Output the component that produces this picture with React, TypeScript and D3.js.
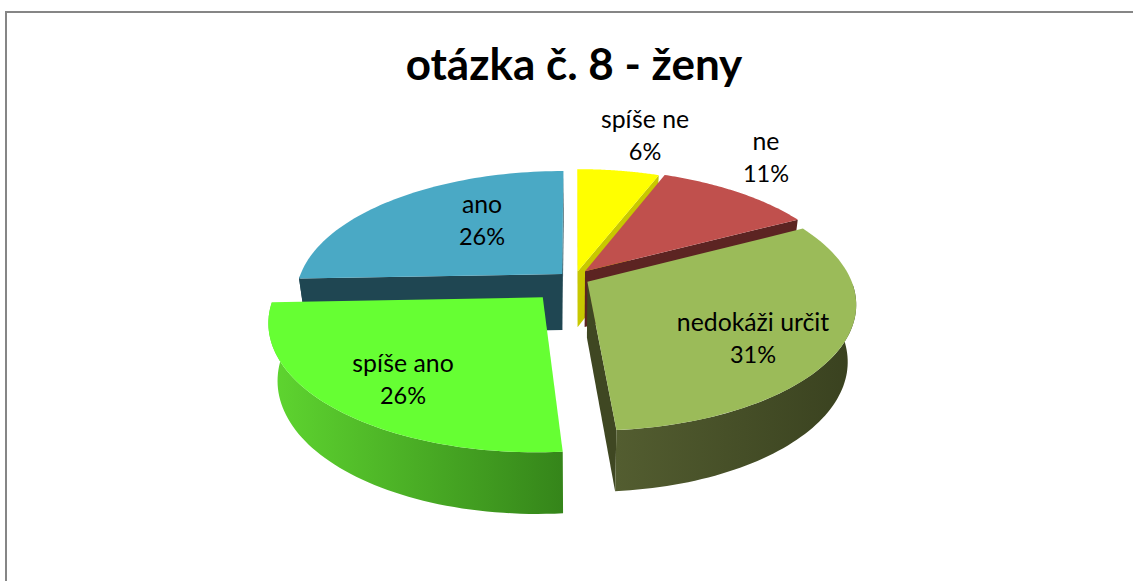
import React from "react";
import * as d3 from "d3";

const categories = ["spíše ne", "ne", "nedokáži určit", "spíše ano", "ano"];
const shares = [5.9, 11.4, 31.4, 25.7, 25.6];
const percentLabels = ["6%", "11%", "31%", "26%", "26%"];
const topColors = ["#ffff00", "#c0504d", "#9bbb59", "#66ff33", "#4aa9c5"];
const wallColors = ["#c8c800", "#5c2422", "#3f4722", "#35851a", "#1f4652"];
const arcLeftColors = ["#c8c800", "#5c2422", "#535d30", "#5fd630", "#1f4652"];
const arcRightColors = ["#c8c800", "#5c2422", "#39411f", "#35851a", "#1f4652"];
const explode = [0.055, 0.075, 0.062, 0.175, 0.047];
const nudgeX = [3, 0, 1, 2, -1];
const nudgeY = [0, 0, 0, 3, 0];
const labelCentres: [number, number][] = [[645, 135], [766, 157], [753, 338], [403, 379], [482, 220]];

const W = 1133, H = 581;
const CX = 572, CY = 278, RX = 263, AY = 122, PERSP = 0.172, DEPTH = 56, SHRINK = 0.03;

type Pt = [number, number];
const project = (i: number, a: number, r: number, e: number, mid: number, low: boolean): Pt => {
  const wx = r * Math.sin(a) + e * Math.sin(mid);
  const wz = r * Math.cos(a) + e * Math.cos(mid);
  const s = 1 / (1 + PERSP * wz);
  return [
    CX + nudgeX[i] + RX * wx * s * (low ? 1 - SHRINK : 1),
    CY + nudgeY[i] - AY * wz * s + (low ? DEPTH - 5 * wz : 0),
  ];
};

const line = d3.line<Pt>().x((d) => d[0]).y((d) => d[1]);
const close = (pts: Pt[]) => line(pts) + "Z";

const arcs = d3.pie<number>().sort(null).startAngle(0).endAngle(2 * Math.PI)(shares);
const drawOrder = [0, 1, 2, 4, 3];
const rad = (deg: number) => (deg * Math.PI) / 180;

const App = () => {
  const slices = drawOrder.map((i) => {
    const { startAngle: a0, endAngle: a1 } = arcs[i];
    const mid = (a0 + a1) / 2;
    const e = explode[i];
    const steps = d3.range(0, 61).map((k) => a0 + ((a1 - a0) * k) / 60);
    const rim = steps.map((a) => project(i, a, 1, e, mid, false));
    const apex = project(i, 0, 0, e, mid, false);
    const apexLow = project(i, 0, 0, e, mid, true);
    const inner = project(i, mid, 0.6, e, mid, false);

    const walls = [a0, a1].flatMap((a) => {
      const o = project(i, a, 1, e, mid, false);
      const oLow = project(i, a, 1, e, mid, true);
      const dx = o[0] - apex[0];
      if (Math.abs(dx) < 0.001) return [];
      const yOnLine = apex[1] + ((o[1] - apex[1]) / dx) * (inner[0] - apex[0]);
      return inner[1] < yOnLine ? [close([apex, o, oLow, apexLow])] : [];
    });

    const from = Math.max(a0, rad(91));
    const to = Math.min(a1, rad(269));
    let arcPath: string | null = null;
    let gx: [number, number] = [0, 1];
    if (to > from) {
      const ks = d3.range(0, 61).map((k) => from + ((to - from) * k) / 60);
      const up = ks.map((a) => project(i, a, 1, e, mid, false));
      const lo = ks.map((a) => project(i, a, 1, e, mid, true)).reverse();
      arcPath = close([...up, ...lo]);
      const xs = [...up, ...lo].map((p) => p[0]);
      gx = [d3.min(xs)!, d3.max(xs)!];
    }
    return { i, rim, apex, walls, arcPath, gx };
  });

  return (
    <svg
      width={W}
      height={H}
      viewBox={`0 0 ${W} ${H}`}
      style={{ position: "fixed", left: 0, top: 0, background: "#fff" }}
    >
      <defs>
        {slices.map((s) => (
          <linearGradient
            key={s.i}
            id={`arc${s.i}`}
            gradientUnits="userSpaceOnUse"
            x1={s.gx[0]}
            x2={s.gx[1]}
            y1={0}
            y2={0}
          >
            <stop offset="0%" stopColor={arcLeftColors[s.i]} />
            <stop offset="100%" stopColor={arcRightColors[s.i]} />
          </linearGradient>
        ))}
      </defs>
      <path d="M1140,12H6V590" fill="none" stroke="#868686" strokeWidth={2} />
      {slices.map((s) => (
        <g key={s.i}>
          {s.walls.map((d, k) => (
            <path key={k} d={d} fill={wallColors[s.i]} />
          ))}
          {s.arcPath && <path d={s.arcPath} fill={`url(#arc${s.i})`} />}
          <path d={close([s.apex, ...s.rim])} fill={topColors[s.i]} />
        </g>
      ))}
      <text
        x={574}
        y={80}
        textAnchor="middle"
        fontFamily="Lato, sans-serif"
        fontWeight={700}
        fontSize={44}
        fill="#000"
      >
        otázka č. 8 - ženy
      </text>
      {categories.map((c, i) => (
        <text key={c} textAnchor="middle" fontFamily="Lato, sans-serif" fill="#000">
          <tspan x={labelCentres[i][0]} y={labelCentres[i][1] - 7} fontSize={24.8}>{c}</tspan>
          <tspan x={labelCentres[i][0]} y={labelCentres[i][1] + 25} fontSize={23.5}>{percentLabels[i]}</tspan>
        </text>
      ))}
    </svg>
  );
};

export default App;
